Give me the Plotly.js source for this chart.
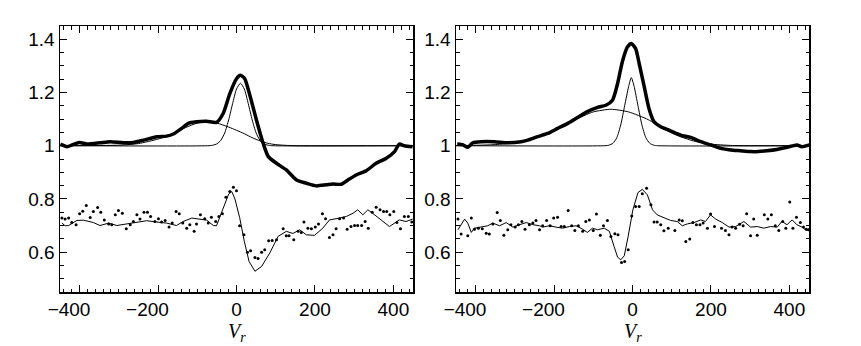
<!DOCTYPE html>
<html>
<head>
<meta charset="utf-8">
<script src="https://cdn.plot.ly/plotly-3.0.1.min.js"></script>
<style>
  html, body { margin: 0; padding: 0; background: #fff; }
  #chart { width: 861px; height: 346px; }
</style>
</head>
<body>
<div id="chart"></div>
<script>
// Left panel: observed profile (thick), two gaussian components, residual model + points
const leftProfileV = [-449, -432, -419, -401, -381, -347, -322, -288, -263, -237, -203, -178, -161, -140, -123, -102, -76, -51, -34, -17, 0, 10, 21, 34, 51, 68, 81, 102, 127, 153, 178, 203, 229, 246, 267, 284, 305, 331, 356, 381, 403, 415, 428, 449];
const leftProfile = [1.006, 0.996, 1.003, 1.012, 1.006, 1.011, 1.015, 1.011, 1.012, 1.021, 1.034, 1.036, 1.044, 1.065, 1.084, 1.09, 1.092, 1.088, 1.121, 1.196, 1.252, 1.265, 1.252, 1.19, 1.096, 1.009, 0.959, 0.934, 0.909, 0.871, 0.859, 0.849, 0.853, 0.856, 0.855, 0.871, 0.89, 0.906, 0.934, 0.952, 0.978, 1.006, 1.0, 0.996];

const leftNarrowV = [-450, -70, -60, -50, -40, -30, -20, -10, 0, 10, 20, 30, 40, 50, 60, 70, 80, 90, 450];
const leftNarrow = [1, 1, 1.002, 1.007, 1.02, 1.048, 1.097, 1.158, 1.213, 1.235, 1.213, 1.158, 1.097, 1.048, 1.02, 1.007, 1.002, 1.0, 1.0];

const leftBroadV = [-450, -300, -250, -200, -160, -130, -100, -75, -50, -20, 0, 20, 40, 60, 80, 100, 130, 160, 450];
const leftBroad = [1, 1.002, 1.008, 1.025, 1.045, 1.068, 1.085, 1.09, 1.085, 1.07, 1.058, 1.045, 1.03, 1.018, 1.009, 1.004, 1.001, 1, 1];

const leftModelV = [-445, -437, -428, -407, -390, -365, -348, -326, -305, -280, -254, -229, -203, -178, -153, -136, -114, -93, -76, -59, -51, -42, -30, -20, -12, -4, 8, 20, 32, 47, 64, 85, 106, 127, 144, 161, 178, 199, 220, 237, 263, 280, 297, 309, 322, 335, 347, 369, 390, 415, 432, 449];
const leftModel = [0.709, 0.699, 0.70, 0.719, 0.72, 0.711, 0.70, 0.709, 0.70, 0.706, 0.711, 0.718, 0.713, 0.709, 0.70, 0.715, 0.728, 0.725, 0.72, 0.70, 0.699, 0.734, 0.784, 0.818, 0.8275, 0.80, 0.73, 0.64, 0.565, 0.528, 0.546, 0.597, 0.659, 0.678, 0.67, 0.684, 0.665, 0.663, 0.69, 0.721, 0.728, 0.734, 0.746, 0.759, 0.74, 0.759, 0.746, 0.721, 0.696, 0.721, 0.715, 0.724];

const leftDotsV = [-445, -437, -428, -420, -409, -400, -392, -383, -373, -365, -354, -346, -337, -326, -318, -309, -301, -291, -281, -271, -263, -254, -246, -236, -227, -219, -208, -199, -191, -182, -172, -164, -154, -146, -137, -127, -119, -108, -102, -92, -81, -72, -64, -53, -45, -36, -27, -17, -8, 0, 8, 19, 28, 36, 47, 55, 64, 72, 82, 91, 102, 119, 127, 134, 146, 157, 165, 172, 182, 191, 201, 209, 219, 227, 237, 246, 254, 263, 273, 282, 292, 301, 309, 319, 328, 336, 346, 356, 366, 375, 383, 391, 401, 409, 418, 428, 438, 447];
const leftDots = [0.728, 0.724, 0.728, 0.711, 0.703, 0.744, 0.754, 0.775, 0.730, 0.753, 0.768, 0.750, 0.721, 0.706, 0.703, 0.740, 0.756, 0.746, 0.688, 0.703, 0.715, 0.740, 0.724, 0.750, 0.750, 0.734, 0.715, 0.725, 0.713, 0.719, 0.694, 0.709, 0.753, 0.744, 0.709, 0.690, 0.703, 0.678, 0.706, 0.740, 0.725, 0.709, 0.731, 0.715, 0.734, 0.744, 0.806, 0.828, 0.844, 0.831, 0.699, 0.665, 0.599, 0.605, 0.580, 0.576, 0.599, 0.609, 0.643, 0.644, 0.646, 0.688, 0.661, 0.661, 0.646, 0.678, 0.674, 0.713, 0.690, 0.688, 0.694, 0.706, 0.744, 0.725, 0.655, 0.665, 0.688, 0.725, 0.728, 0.686, 0.696, 0.700, 0.700, 0.700, 0.715, 0.690, 0.750, 0.769, 0.759, 0.753, 0.753, 0.740, 0.753, 0.711, 0.688, 0.734, 0.734, 0.713];

// Right panel
const rightProfileV = [-447, -432, -420, -407, -386, -352, -318, -284, -267, -242, -216, -191, -165, -140, -115, -89, -68, -51, -38, -26, -13, -3, 8, 17, 30, 42, 55, 72, 97, 123, 148, 174, 199, 225, 250, 275, 301, 322, 343, 368, 394, 419, 432, 451];
const rightProfile = [1.006, 1.003, 0.994, 1.011, 1.015, 1.015, 1.011, 1.015, 1.021, 1.034, 1.046, 1.065, 1.084, 1.106, 1.128, 1.144, 1.152, 1.171, 1.234, 1.315, 1.371, 1.384, 1.365, 1.309, 1.221, 1.14, 1.09, 1.071, 1.056, 1.04, 1.031, 1.015, 1.003, 0.99, 0.984, 0.981, 0.978, 0.978, 0.981, 0.986, 0.994, 1.003, 0.996, 1.003];

const rightNarrowV = [-450, -70, -60, -50, -40, -30, -20, -10, -3, 4, 14, 24, 34, 44, 54, 64, 450];
const rightNarrow = [1, 1, 1.002, 1.009, 1.03, 1.078, 1.15, 1.222, 1.256, 1.224, 1.15, 1.078, 1.03, 1.009, 1.002, 1, 1];

const rightBroadV = [-450, -350, -300, -250, -200, -150, -100, -55, -10, 40, 80, 120, 160, 200, 250, 300, 450];
const rightBroad = [1.0, 1.004, 1.012, 1.03, 1.057, 1.095, 1.127, 1.137, 1.127, 1.098, 1.062, 1.035, 1.016, 1.006, 1.001, 1.0, 1.0];

const rightModelV = [-445, -438, -428, -420, -411, -403, -386, -369, -356, -339, -322, -305, -288, -271, -254, -237, -229, -212, -195, -178, -161, -144, -127, -115, -102, -89, -72, -59, -47, -38, -30, -21, -11, 1, 14, 25, 38, 51, 63, 80, 97, 114, 127, 140, 157, 174, 186, 199, 212, 229, 246, 263, 284, 301, 318, 335, 352, 369, 381, 394, 407, 419, 432, 441, 452];
const rightModel = [0.684, 0.699, 0.724, 0.709, 0.674, 0.690, 0.694, 0.699, 0.709, 0.699, 0.711, 0.694, 0.703, 0.711, 0.703, 0.699, 0.694, 0.699, 0.694, 0.690, 0.696, 0.699, 0.686, 0.674, 0.690, 0.684, 0.690, 0.678, 0.621, 0.581, 0.571, 0.586, 0.66, 0.759, 0.824, 0.836, 0.815, 0.759, 0.74, 0.728, 0.719, 0.715, 0.699, 0.706, 0.711, 0.721, 0.715, 0.74, 0.724, 0.711, 0.694, 0.696, 0.715, 0.694, 0.696, 0.690, 0.696, 0.694, 0.715, 0.703, 0.721, 0.703, 0.694, 0.684, 0.681];

const rightDotsV = [-445, -437, -420, -411, -403, -393, -383, -373, -365, -356, -345, -337, -328, -318, -310, -299, -291, -282, -274, -263, -254, -246, -237, -229, -219, -210, -201, -191, -182, -174, -164, -155, -147, -138, -127, -119, -110, -100, -92, -82, -74, -64, -55, -45, -37, -28, -20, -11, -2, 8, 17, 25, 36, 47, 55, 63, 72, 80, 91, 108, 119, 127, 136, 146, 154, 163, 172, 180, 191, 199, 209, 227, 237, 246, 254, 263, 273, 282, 291, 301, 309, 318, 336, 345, 354, 364, 373, 383, 391, 401, 409, 418, 428, 436, 443, 449];
const rightDots = [0.724, 0.668, 0.661, 0.728, 0.686, 0.690, 0.688, 0.671, 0.668, 0.706, 0.749, 0.719, 0.663, 0.684, 0.703, 0.694, 0.703, 0.715, 0.686, 0.703, 0.709, 0.719, 0.684, 0.699, 0.719, 0.699, 0.728, 0.731, 0.696, 0.696, 0.756, 0.699, 0.681, 0.699, 0.678, 0.715, 0.721, 0.681, 0.743, 0.663, 0.699, 0.719, 0.659, 0.669, 0.665, 0.561, 0.565, 0.609, 0.736, 0.771, 0.771, 0.819, 0.84, 0.778, 0.713, 0.713, 0.703, 0.68, 0.69, 0.681, 0.721, 0.718, 0.64, 0.649, 0.711, 0.703, 0.703, 0.709, 0.69, 0.743, 0.696, 0.69, 0.681, 0.665, 0.694, 0.69, 0.705, 0.699, 0.744, 0.661, 0.724, 0.663, 0.74, 0.724, 0.74, 0.699, 0.681, 0.715, 0.69, 0.788, 0.69, 0.731, 0.711, 0.694, 0.686, 0.684];

// labelled x ticks, plus unlabelled long ticks in between
const tickVals = [-400, -200, 0, 200, 400];
const tickText = ['\u2212400\u2007\u2007', '\u2212200\u2007\u2007', '0', '200', '400'];
const midTickVals = [-300, -100, 100, 300];
const xTitle = '<i>V</i><sub><i>r</i></sub>';

function thin(x, y, xa, ya, shape) {
    return { x: x, y: y, xaxis: xa, yaxis: ya, type: 'scatter', mode: 'lines',
             line: { color: '#000', width: 1, shape: shape || 'spline', smoothing: 0.6 },
             hoverinfo: 'skip' };
}
function thick(x, y, xa, ya) {
    return { x: x, y: y, xaxis: xa, yaxis: ya, type: 'scatter', mode: 'lines',
             line: { color: '#000', width: 3.5, shape: 'spline', smoothing: 0.6 },
             hoverinfo: 'skip' };
}
function dots(x, y, xa, ya) {
    return { x: x, y: y, xaxis: xa, yaxis: ya, type: 'scatter', mode: 'markers',
             marker: { color: '#000', size: 3, symbol: 'circle' },
             hoverinfo: 'skip' };
}

const traces = [
    thin(leftBroadV, leftBroad, 'x', 'y'),
    thin(leftNarrowV, leftNarrow, 'x', 'y'),
    thick(leftProfileV, leftProfile, 'x', 'y'),
    thin(leftModelV, leftModel, 'x', 'y', 'linear'),
    dots(leftDotsV, leftDots, 'x', 'y'),
    thin(rightBroadV, rightBroad, 'x2', 'y2'),
    thin(rightNarrowV, rightNarrow, 'x2', 'y2'),
    thick(rightProfileV, rightProfile, 'x2', 'y2'),
    thin(rightModelV, rightModel, 'x2', 'y2', 'linear'),
    dots(rightDotsV, rightDots, 'x2', 'y2')
];

const tickFont = { family: 'Liberation Sans, Arial, sans-serif', size: 19, color: '#000' };
const titleFont = { family: 'Liberation Serif, Times New Roman, serif', size: 20, color: '#000' };

function xAxis(domain, anchor) {
    return {
        domain: domain, anchor: anchor, range: [-450, 450],
        tickmode: 'array', tickvals: tickVals, ticktext: tickText,
        ticks: 'inside', ticklen: 7, tickwidth: 1, tickcolor: '#000',
        minor: { tickmode: 'linear', tick0: 0, dtick: 20, ticks: 'inside', ticklen: 3.5, tickcolor: '#000', tickwidth: 1 },
        showline: true, linecolor: '#000', linewidth: 1.5, mirror: 'allticks',
        showgrid: false, zeroline: false, tickfont: tickFont
    };
}
function midAxis(over, anchor) {
    return {
        overlaying: over, anchor: anchor, range: [-450, 450],
        tickmode: 'array', tickvals: midTickVals, showticklabels: false,
        ticks: 'inside', ticklen: 7, tickwidth: 1, tickcolor: '#000',
        showline: false, mirror: 'ticks', showgrid: false, zeroline: false
    };
}
function yAxis(domain, anchor) {
    return {
        domain: domain, anchor: anchor, range: [0.45, 1.45],
        tickmode: 'linear', tick0: 0.6, dtick: 0.2,
        ticks: 'inside', ticklen: 7, tickwidth: 1, tickcolor: '#000',
        minor: { tickmode: 'linear', tick0: 0.45, dtick: 0.05, ticks: 'inside', ticklen: 3.5, tickcolor: '#000', tickwidth: 1 },
        showline: true, linecolor: '#000', linewidth: 1.5, mirror: 'allticks',
        showgrid: false, zeroline: false, tickfont: tickFont
    };
}

const yDom = [1 - 292 / 346, 1 - 26 / 346];

const layout = {
    width: 861, height: 346,
    margin: { l: 0, r: 0, t: 0, b: 0 },
    paper_bgcolor: '#fff', plot_bgcolor: '#fff',
    showlegend: false,
    xaxis: xAxis([60 / 861, 413 / 861], 'y'),
    yaxis: yAxis(yDom, 'x'),
    xaxis2: xAxis([456 / 861, 809 / 861], 'y2'),
    yaxis2: yAxis(yDom, 'x2'),
    xaxis3: midAxis('x', 'y'),
    xaxis4: midAxis('x2', 'y2'),
    annotations: [
        { text: xTitle, xref: 'x', x: 0, yref: 'paper', y: 1 - 319 / 346, yanchor: 'top', borderpad: 0, showarrow: false, font: titleFont },
        { text: xTitle, xref: 'x2', x: 0, yref: 'paper', y: 1 - 319 / 346, yanchor: 'top', borderpad: 0, showarrow: false, font: titleFont }
    ]
};

Plotly.newPlot('chart', traces, layout, { displayModeBar: false, staticPlot: true });
</script>
</body>
</html>
